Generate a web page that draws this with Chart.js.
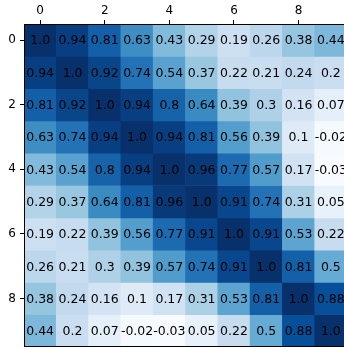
<!DOCTYPE html>
<html lang="en">
<head>
  <meta charset="UTF-8">
  <title>Correlation heatmap</title>
  <script src="https://cdn.jsdelivr.net/npm/chart.js"></script>
  <style>
    body {
      margin: 0;
      background: #ffffff;
      overflow: hidden;
    }
    canvas {
      display: block;
    }
  </style>
</head>
<body>
  <canvas id="heatmap" width="348" height="349"></canvas>

  <script>
    const colLabels = ['0', '1', '2', '3', '4', '5', '6', '7', '8', '9'];
    const rowLabels = ['0', '1', '2', '3', '4', '5', '6', '7', '8', '9'];
    const xTickLabels = ['0', '2', '4', '6', '8'];
    const yTickLabels = ['0', '2', '4', '6', '8'];

    const row0 = [1.0, 0.94, 0.81, 0.63, 0.43, 0.29, 0.19, 0.26, 0.38, 0.44];
    const row1 = [0.94, 1.0, 0.92, 0.74, 0.54, 0.37, 0.22, 0.21, 0.24, 0.2];
    const row2 = [0.81, 0.92, 1.0, 0.94, 0.8, 0.64, 0.39, 0.3, 0.16, 0.07];
    const row3 = [0.63, 0.74, 0.94, 1.0, 0.94, 0.81, 0.56, 0.39, 0.1, -0.02];
    const row4 = [0.43, 0.54, 0.8, 0.94, 1.0, 0.96, 0.77, 0.57, 0.17, -0.03];
    const row5 = [0.29, 0.37, 0.64, 0.81, 0.96, 1.0, 0.91, 0.74, 0.31, 0.05];
    const row6 = [0.19, 0.22, 0.39, 0.56, 0.77, 0.91, 1.0, 0.91, 0.53, 0.22];
    const row7 = [0.26, 0.21, 0.3, 0.39, 0.57, 0.74, 0.91, 1.0, 0.81, 0.5];
    const row8 = [0.38, 0.24, 0.16, 0.1, 0.17, 0.31, 0.53, 0.81, 1.0, 0.88];
    const row9 = [0.44, 0.2, 0.07, -0.02, -0.03, 0.05, 0.22, 0.5, 0.88, 1.0];
    const rows = [row0, row1, row2, row3, row4, row5, row6, row7, row8, row9];

    // matplotlib "Blues"
    const blues = ['#f7fbff', '#deebf7', '#c6dbef', '#9ecae1', '#6baed6',
                   '#4292c6', '#2171b5', '#08519c', '#08306b'];
    const vmin = -0.03, vmax = 1.0;

    function hexToRgb(h) {
      return [parseInt(h.slice(1, 3), 16), parseInt(h.slice(3, 5), 16), parseInt(h.slice(5, 7), 16)];
    }

    function bluesColor(v) {
      let t = (v - vmin) / (vmax - vmin);
      t = Math.min(1, Math.max(0, t)) * (blues.length - 1);
      const i = Math.min(Math.floor(t), blues.length - 2);
      const f = t - i;
      const a = hexToRgb(blues[i]), b = hexToRgb(blues[i + 1]);
      const c = a.map((x, k) => Math.round(x + (b[k] - x) * f));
      return `rgb(${c[0]}, ${c[1]}, ${c[2]})`;
    }

    function fmt(v) {
      return Number.isInteger(v) ? v.toFixed(1) : String(v);
    }

    // one stacked dataset per row, each cell one unit tall
    const datasets = rows.map((r, i) => ({
      label: rowLabels[i],
      data: r.map(() => 1),
      values: r,
      backgroundColor: r.map(bluesColor),
      borderWidth: 0,
      barPercentage: 1.0,
      categoryPercentage: 1.0
    }));

    const cellText = {
      id: 'cellText',
      afterDatasetsDraw(chart) {
        const ctx = chart.ctx;
        ctx.save();
        ctx.font = '12.5px "DejaVu Sans"';
        ctx.fillStyle = '#000000';
        ctx.textAlign = 'center';
        ctx.textBaseline = 'middle';
        chart.data.datasets.forEach((ds, i) => {
          chart.getDatasetMeta(i).data.forEach((bar, j) => {
            const p = bar.getCenterPoint();
            ctx.fillText(fmt(ds.values[j]), p.x, p.y + 1);
          });
        });
        ctx.restore();
      }
    };

    const frame = {
      id: 'frame',
      afterDraw(chart) {
        const a = chart.chartArea;
        const ctx = chart.ctx;
        ctx.save();
        ctx.strokeStyle = '#000000';
        ctx.lineWidth = 1;
        ctx.strokeRect(a.left + 0.5, a.top + 0.5, a.right - a.left - 1, a.bottom - a.top - 1);
        ctx.restore();
      }
    };

    const ctxHeat = document.getElementById('heatmap').getContext('2d');
    new Chart(ctxHeat, {
      type: 'bar',
      data: { labels: colLabels, datasets: datasets },
      options: {
        responsive: false,
        animation: false,
        devicePixelRatio: 1,
        layout: { padding: { top: 0, left: 0, right: 1, bottom: 2 } },
        plugins: {
          legend: { display: false },
          tooltip: { enabled: false }
        },
        scales: {
          x: {
            position: 'top',
            stacked: true,
            offset: true,
            grid: {
              offset: false,
              drawOnChartArea: false,
              drawTicks: true,
              tickLength: 4,
              tickWidth: 1,
              color: '#000000'
            },
            border: { display: false },
            ticks: {
              color: '#000000',
              font: { family: 'DejaVu Sans', size: 12 },
              padding: 2,
              autoSkip: false,
              maxRotation: 0,
              callback: (v) => colLabels[v]
            },
            afterBuildTicks(scale) {
              scale.ticks = xTickLabels.map(l => ({ value: colLabels.indexOf(l) }));
            },
            afterFit(scale) {
              scale.height = 24;
              scale.paddingLeft = 0;
              scale.paddingRight = 0;
            }
          },
          y: {
            stacked: true,
            reverse: true,
            min: 0,
            max: rows.length,
            grid: {
              drawOnChartArea: false,
              drawTicks: true,
              tickLength: 4,
              tickWidth: 1,
              color: '#000000'
            },
            border: { display: false },
            ticks: {
              color: '#000000',
              font: { family: 'DejaVu Sans', size: 12 },
              padding: 4,
              autoSkip: false,
              callback: (v) => rowLabels[v - 0.5]
            },
            afterBuildTicks(scale) {
              scale.ticks = yTickLabels.map(l => ({ value: rowLabels.indexOf(l) + 0.5 }));
            },
            afterFit(scale) {
              scale.width = 24;
              scale.paddingTop = 0;
              scale.paddingBottom = 0;
            }
          }
        }
      },
      plugins: [cellText, frame]
    });
  </script>
</body>
</html>
